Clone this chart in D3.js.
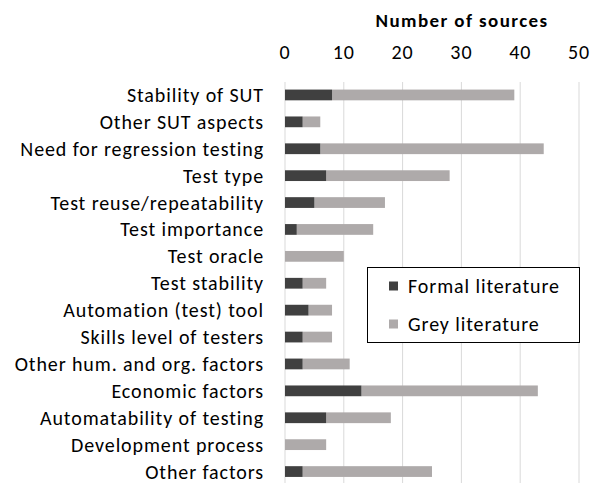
<!DOCTYPE html>
<html>
<head>
  <meta charset="utf-8">
  <title>Number of sources by factor</title>
  <script src="https://d3js.org/d3.v7.min.js"></script>
  <style>
    body { margin: 0; background: #fff; }
    svg text { font-family: Calibri, Carlito, Lato, sans-serif; fill: #000; letter-spacing: 0.9px; }
  </style>
</head>
<body>
  <div id="chart"></div>
  <script>
    var categories = [
      "Stability of SUT", "Other SUT aspects", "Need for regression testing",
      "Test type", "Test reuse/repeatability", "Test importance", "Test oracle",
      "Test stability", "Automation (test) tool", "Skills level of testers",
      "Other hum. and org. factors", "Economic factors",
      "Automatability of testing", "Development process", "Other factors"
    ];
    var formal = [8, 3, 6, 7, 5, 2, 0, 3, 4, 3, 3, 13, 7, 0, 3];
    var grey   = [31, 3, 38, 21, 12, 13, 10, 4, 4, 5, 8, 30, 11, 7, 22];
    var seriesNames = ["Formal literature", "Grey literature"];
    var ticks = [0, 10, 20, 30, 40, 50];

    var W = 592, H = 483;
    var plotLeft = 285, plotRight = 579, plotTop = 81.5, plotBottom = 485;

    var svg = d3.select("#chart").append("svg")
      .attr("width", W).attr("height", H);

    var x = d3.scaleLinear().domain([0, 50]).range([plotLeft, plotRight]);
    var y = d3.scaleBand().domain(categories).range([plotTop, plotBottom])
      .paddingInner(0.6).paddingOuter(0.3);

    // gridlines
    svg.append("g").selectAll("line").data(ticks).join("line")
      .attr("x1", d => x(d)).attr("x2", d => x(d))
      .attr("y1", 82).attr("y2", H)
      .attr("stroke", "#d9d9d9").attr("stroke-width", 1);

    // top tick labels
    svg.append("g").selectAll("text").data(ticks).join("text")
      .attr("x", d => x(d)).attr("y", 59)
      .attr("text-anchor", "middle")
      .style("font-size", "20px")
      .text(d => d);

    svg.append("text")
      .attr("x", 462).attr("y", 27)
      .attr("text-anchor", "middle")
      .style("font-size", "19px").style("font-weight", "bold")
      .style("letter-spacing", "1.4px")
      .text("Number of  sources");

    // category labels
    svg.append("g").selectAll("text").data(categories).join("text")
      .attr("x", 264).attr("y", d => y(d) + y.bandwidth() / 2)
      .attr("dy", "0.35em")
      .attr("text-anchor", "end")
      .style("font-size", "20px")
      .text(d => d);

    var rows = categories.map((c, i) => ({ c: c, f: formal[i], g: grey[i] }));

    svg.append("g").selectAll("rect").data(rows).join("rect")
      .attr("x", d => x(d.f)).attr("y", d => y(d.c))
      .attr("width", d => x(d.f + d.g) - x(d.f))
      .attr("height", y.bandwidth())
      .attr("fill", "#aeaaaa");

    svg.append("g").selectAll("rect").data(rows).join("rect")
      .attr("x", x(0)).attr("y", d => y(d.c))
      .attr("width", d => x(d.f) - x(0))
      .attr("height", y.bandwidth())
      .attr("fill", "#404040");

    // legend
    var lg = svg.append("g");
    lg.append("rect")
      .attr("x", 367.5).attr("y", 267.5).attr("width", 212).attr("height", 75)
      .attr("fill", "#fff").attr("stroke", "#000").attr("stroke-width", 1);
    var colors = ["#404040", "#aeaaaa"];
    seriesNames.forEach((s, i) => {
      var cy = 286 + i * 38;
      lg.append("rect").attr("x", 389).attr("y", cy - 4.5).attr("width", 9).attr("height", 9)
        .attr("fill", colors[i]);
      lg.append("text").attr("x", 408).attr("y", cy).attr("dy", "0.35em")
        .style("font-size", "20px").text(s);
    });
  </script>
</body>
</html>
